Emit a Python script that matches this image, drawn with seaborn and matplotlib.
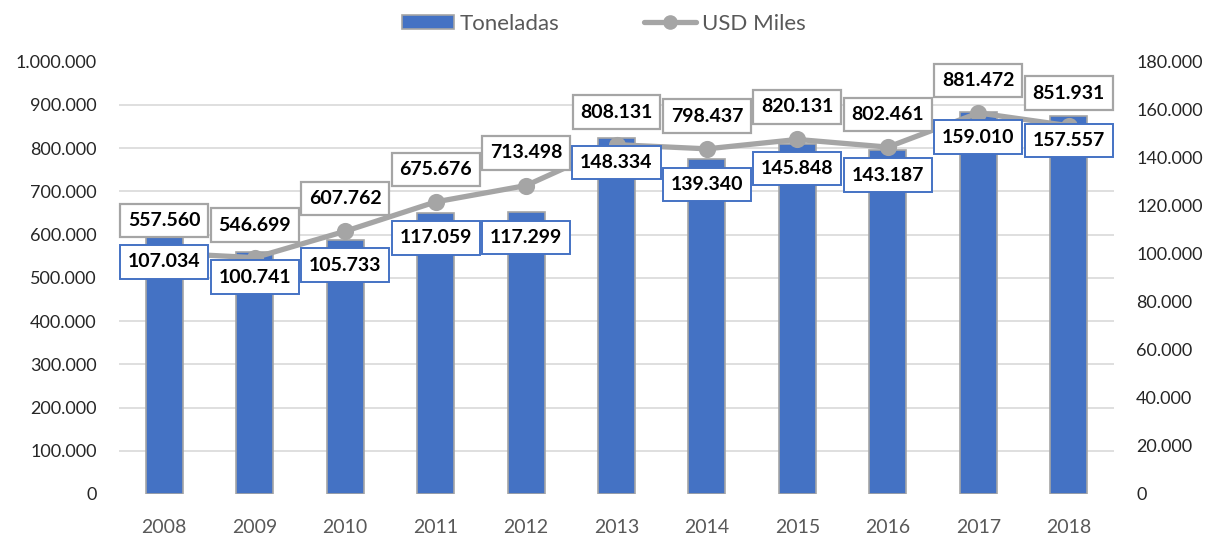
import matplotlib
matplotlib.use("Agg")
import matplotlib.pyplot as plt
from matplotlib.ticker import MultipleLocator, FuncFormatter
from matplotlib.patches import Patch
from matplotlib.lines import Line2D
from matplotlib.path import Path
import seaborn as sns
import pandas as pd

years = ["2008", "2009", "2010", "2011", "2012", "2013", "2014", "2015", "2016", "2017", "2018"]
toneladas = [107034, 100741, 105733, 117059, 117299, 148334, 139340, 145848, 143187, 159010, 157557]
usd_miles = [557560, 546699, 607762, 675676, 713498, 808131, 798437, 820131, 802461, 881472, 851931]

BLUE = "#4472C4"
GRAY = "#A5A5A5"
TXT = "#595959"
YTXT = "#262626"

sns.set_theme(style="white")
plt.rcParams["font.family"] = ["Lato", "DejaVu Sans"]

df = pd.DataFrame({"year": years, "toneladas": toneladas, "usd": usd_miles})

fig = plt.figure(figsize=(12.08, 5.36), dpi=100)
ax = fig.add_axes([119/1208, 42/536, 995/1208, 432.3/536])
ax2 = ax.twinx()


def fmt(v, pos=None):
    return f"{v:,.0f}".replace(",", ".")


def label_box(x0, y0, width, height, mutation_size):
    # rectangle with separate horizontal / vertical padding
    padx = 0.40 * mutation_size
    half_h = 0.86 * mutation_size
    cy = y0 + height / 2
    x1 = x0 - padx
    x2 = x0 + width + padx
    y1 = cy - half_h
    y2 = cy + half_h
    return Path([(x1, y1), (x2, y1), (x2, y2), (x1, y2), (x1, y1)], closed=True)


# bars (right axis scale)
sns.barplot(data=df, x="year", y="toneladas", ax=ax, color=BLUE, saturation=1,
            width=0.41, edgecolor=GRAY, linewidth=1.2, zorder=2)
ax.set_ylim(0, 180000)
ax.yaxis.set_major_locator(MultipleLocator(20000))
ax.yaxis.set_minor_locator(MultipleLocator(18000))
ax.yaxis.tick_right()
ax.yaxis.set_major_formatter(FuncFormatter(fmt))
ax.grid(False)
ax.grid(which="minor", axis="y", color="#D9D9D9", linewidth=1.2, zorder=0)
ax.set_axisbelow(True)
ax.tick_params(axis="y", which="both", length=0, labelsize=13, labelcolor=YTXT, pad=16)
ax.tick_params(axis="x", length=0, labelsize=14, labelcolor=TXT, pad=18)
ax.set_xlabel("")
ax.set_ylabel("")

# line (left axis scale)
sns.pointplot(data=df, x="year", y="usd", ax=ax2, color=GRAY, markers="o",
              linewidth=3.8, markersize=9.5)
ax2.set_ylim(0, 1000000)
ax2.yaxis.set_major_locator(MultipleLocator(100000))
ax2.yaxis.tick_left()
ax2.yaxis.set_major_formatter(FuncFormatter(fmt))
ax2.tick_params(axis="y", length=0, labelsize=13, labelcolor=YTXT, pad=16)
ax2.set_ylabel("")
ax2.set_xlabel("")
ax2.grid(False)

for a in (ax, ax2):
    for s in a.spines.values():
        s.set_visible(False)
    a.set_xlim(-0.5, len(years) - 0.5)

# data labels
for i, (t, u) in enumerate(zip(toneladas, usd_miles)):
    ax2.annotate(fmt(u), xy=(i, u), xycoords=ax2.transData, xytext=(0, 23.5),
                 textcoords="offset points", ha="center", va="center",
                 fontsize=14, fontweight="bold", color="black", zorder=10,
                 annotation_clip=False,
                 bbox=dict(boxstyle=label_box, fc="white", ec=GRAY, lw=1.6))
    ax2.annotate(fmt(t), xy=(i, t), xycoords=ax.transData, xytext=(0, -18),
                 textcoords="offset points", ha="center", va="center",
                 fontsize=14, fontweight="bold", color="black", zorder=11,
                 annotation_clip=False,
                 bbox=dict(boxstyle=label_box, fc="white", ec=BLUE, lw=1.4))

handles = [Patch(facecolor=BLUE, edgecolor=GRAY, linewidth=1.2, label="Toneladas"),
           Line2D([], [], color=GRAY, lw=3.8, marker="o", markersize=9.5, label="USD Miles")]
leg = fig.legend(handles=handles, loc="center", bbox_to_anchor=(0.5, 1 - 24/536),
                 ncol=2, frameon=False, fontsize=16, handlelength=2.34, handleheight=0.63,
                 handletextpad=0.27, columnspacing=3.8)
for txt in leg.get_texts():
    txt.set_color(TXT)

fig.savefig("out.png", dpi=100)
